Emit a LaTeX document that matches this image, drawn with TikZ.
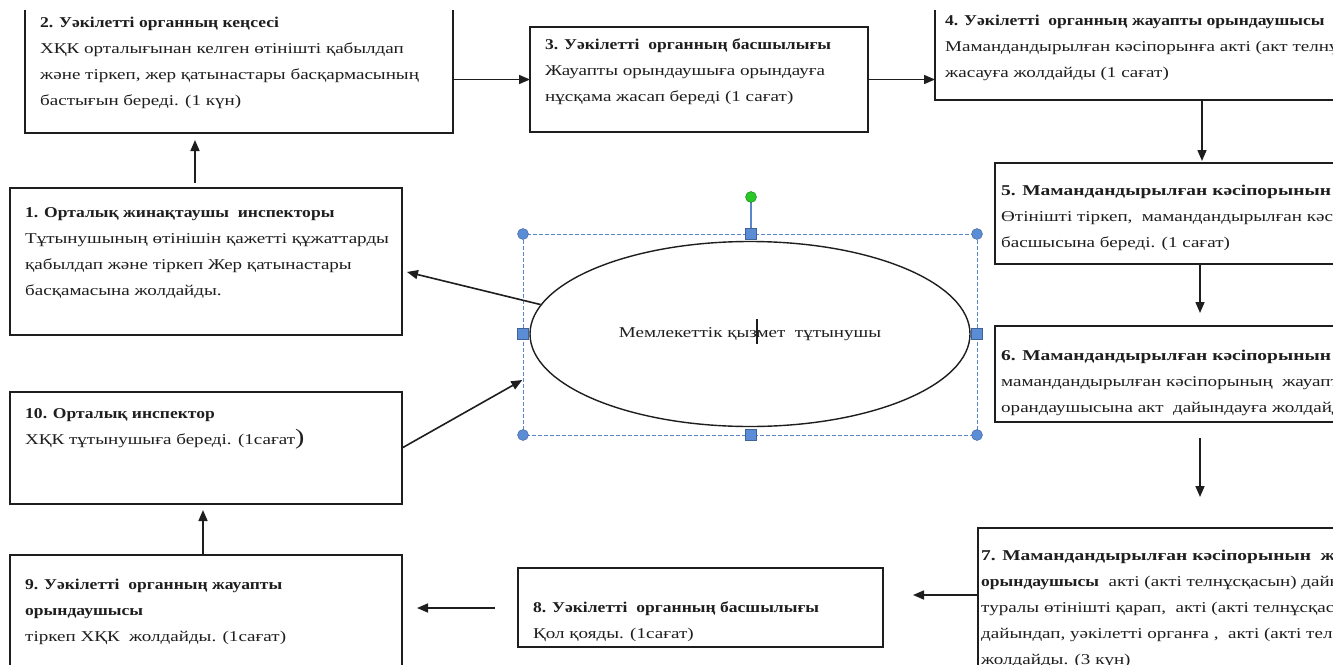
\documentclass[tikz,border=0pt]{standalone}
\usepackage{fontspec}
\setmainfont{Liberation Serif}[FakeStretch=1.27,BoldFeatures={FakeStretch=1.17}]
\newfontfamily\widetitle{Liberation Serif}[FakeStretch=1.3,BoldFeatures={FakeStretch=1.3}]
\usetikzlibrary{arrows.meta,shapes.geometric,calc}
\definecolor{ink}{RGB}{30,30,30}
\definecolor{selblue}{RGB}{90,135,200}
\definecolor{handle}{RGB}{91,140,214}
\definecolor{grn}{RGB}{40,200,40}
\begin{document}
\begin{tikzpicture}[x=1pt,y=-1pt,
 box/.style={draw=ink,line width=1.6pt,fill=white,rectangle,inner sep=0pt,outer sep=0pt,anchor=north west},
 txt/.style={anchor=north west,yshift=18.2pt,align=left,inner sep=0pt,font=\fontsize{15}{26}\selectfont,text=ink},
 arr/.style={draw=ink,line width=1.6pt,-{Triangle[length=11pt,width=9pt]}},
 sel/.style={draw=selblue,dash pattern=on 4pt off 2pt,line width=0.9pt},
 hdl/.style={fill=handle,draw=handle!70!black,line width=0.4pt},
]
\useasboundingbox (0,0) rectangle (1333,664);
\fill[white] (0,0) rectangle (1333,664);
\begin{scope}
\clip (0,10) rectangle (1333,664);
% boxes
\node[box,minimum width=428pt,minimum height=133pt] (b2) at (25,0) {};
\node[box,minimum width=338pt,minimum height=105pt] (b3) at (530,27) {};
\node[box,minimum width=420pt,minimum height=100pt] (b4) at (935,0) {};
\node[box,minimum width=360pt,minimum height=101pt] (b5) at (995,163) {};
\node[box,minimum width=360pt,minimum height=96pt] (b6) at (995,326) {};
\node[box,minimum width=380pt,minimum height=160pt] (b7) at (978,528) {};
\node[box,minimum width=365pt,minimum height=79pt] (b8) at (518,568) {};
\node[box,minimum width=392pt,minimum height=120pt] (b9) at (10,555) {};
\node[box,minimum width=392pt,minimum height=112pt] (b10) at (10,392) {};
\node[box,minimum width=392pt,minimum height=147pt] (b1) at (10,188) {};
% texts (y = first baseline)
\node[txt] (t2) at (40,27) {\strut\textbf{2. Уәкілетті органның кеңсесі}\\ХҚК орталығынан келген өтінішті қабылдап\\және тіркеп, жер қатынастары басқармасының\\бастығын береді. (1 күн)};
\node[txt] (t3) at (545,49) {\strut\textbf{3. Уәкілетті\ \ органның басшылығы}\\Жауапты орындаушыға орындауға\\нұсқама жасап береді (1 сағат)};
\node[txt] (t4) at (945,25) {\strut\textbf{4. Уәкілетті\ \ органның жауапты орындаушысы}\\Мамандандырылған кәсіпорынға акті (акт телнұсқасын)\\жасауға жолдайды (1 сағат)};
\node[txt] (t5) at (1001,195) {\strut{\widetitle\bfseries 5. Мамандандырылған кәсіпорынын басшысы}\\Өтінішті тіркеп,\ \ мамандандырылған кәсіпорынның\\басшысына береді. (1 сағат)};
\node[txt] (t6) at (1001,360) {\strut{\widetitle\bfseries 6. Мамандандырылған кәсіпорынын басшысы}\\мамандандырылған кәсіпорының\ \ жауапты\\орандаушысына акт\ \ дайындауға жолдайды.};
\node[txt] (t7) at (981,560) {\strut{\widetitle\bfseries 7. Мамандандырылған кәсіпорынын\ \ жауапты}\\\textbf{орындаушысы}\ \ акті (акті телнұсқасын) дайындау\\туралы өтінішті қарап,\ \ акті (акті телнұсқасын)\\дайындап, уәкілетті органға ,\ \ акті (акті телнұсқасын)\\жолдайды. (3 күн)};
\node[txt] (t8) at (533,612) {\strut\textbf{8. Уәкілетті\ \ органның басшылығы}\\Қол қояды. (1сағат)};
\node[txt] (t9) at (25,589) {\strut\textbf{9. Уәкілетті\ \ органның жауапты}\\\textbf{орындаушысы}\\тіркеп ХҚК\ \ жолдайды. (1сағат)};
\node[txt] (t10) at (25,418) {\strut\textbf{10. Орталық инспектор}\\ХҚК тұтынушыға береді. (1сағат{\fontsize{22}{26}\selectfont )}};
\node[txt] (t1) at (25,217) {\strut\textbf{1. Орталық жинақтаушы\ \ инспекторы}\\Тұтынушының өтінішін қажетті құжаттарды\\қабылдап және тіркеп Жер қатынастары\\басқамасына жолдайды.};
% ellipse and selection frame
\node[draw=ink,line width=1.4pt,ellipse,minimum width=440pt,minimum height=185pt,inner sep=0pt,font=\fontsize{15}{18}\selectfont,text=ink] (ell) at (750,334) {Мемлекеттік қызмет\ \ тұтынушы};
\draw[line width=2.2pt,ink] (757,319) -- (757,344);
\draw[sel] (523,234) rectangle (977,435);
\draw[selblue,line width=1.2pt] (751,197) -- (751,234);
\fill[grn,draw=grn!60!black,line width=0.4pt] (751,197) circle (5.5);
\foreach \p in {(523,234),(977,234),(523,435),(977,435)} \filldraw[hdl] \p circle (5.5);
\foreach \p in {(751,234),(751,435),(523,334),(977,334)} \filldraw[hdl] \p ++(-5.5,-5.5) rectangle ++(11,11);
% connectors
\coordinate (x45) at (1202,0);
\coordinate (x56) at (1200,0);
\coordinate (x12) at (195,0);
\coordinate (x910) at (203,0);
\draw[arr] (b2.east |- b3.west) -- (b3.west);
\draw[arr] (b3.east) -- (b3.east -| b4.west);
\draw[arr,shorten >=2pt] (b4.south -| x45) -- (b5.north -| x45);
\draw[arr,shorten >=13pt] (b5.south -| x56) -- (b6.north -| x56);
\draw[arr,shorten <=16pt,shorten >=31pt] (b6.south -| x56) -- (b7.north -| x56);
\draw[arr,shorten >=30pt] (b7.west |- 0,595) -- (b8.east |- 0,595);
\draw[arr,shorten <=23pt,shorten >=15pt] (b8.west |- 0,608) -- (b9.east |- 0,608);
\draw[arr,shorten >=6pt] (b9.north -| x910) -- (b10.south -| x910);
\draw[arr,shorten <=5pt,shorten >=7pt] (b1.north -| x12) -- (b2.south -| x12);
\draw[arr,shorten >=2pt] (ell.172) -- ([xshift=3pt,yshift=-10pt]b1.east);
\draw[arr] (b10.east) -- ($(ell.west)+(-7,46)$);
\end{scope}
\end{tikzpicture}
\end{document}
